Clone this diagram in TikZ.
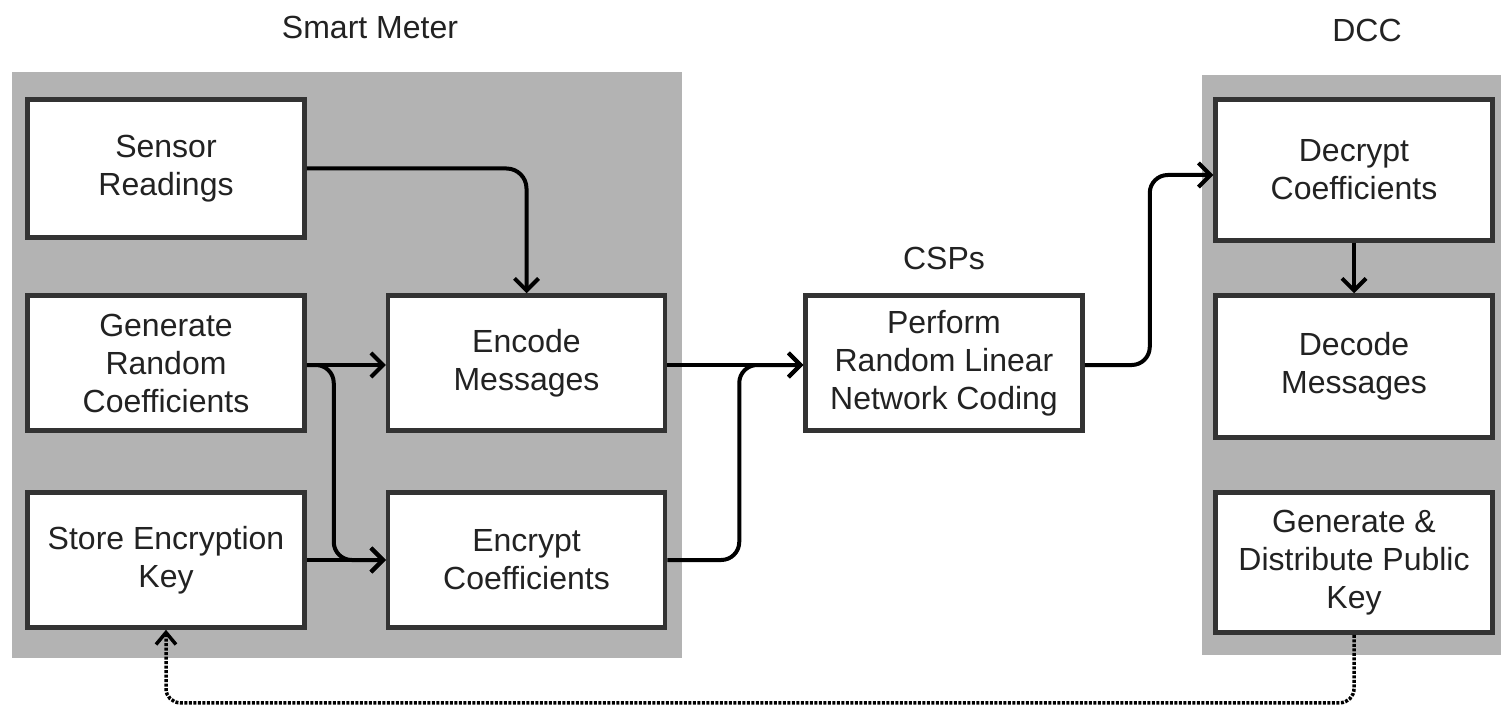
\documentclass[tikz,border=0pt]{standalone}
\usepackage{fontspec}
\setmainfont{Liberation Sans}
\usetikzlibrary{arrows.meta}
\definecolor{panelgray}{RGB}{179,179,179}
\definecolor{boxline}{RGB}{51,51,51}
\definecolor{txt}{RGB}{34,34,34}
\begin{document}
\begin{tikzpicture}[x=1pt,y=-1pt,
  every node/.style={font=\fontsize{32}{38}\selectfont, text=txt},
  block/.style={draw=boxline, line width=4.5pt, fill=white, align=center,
                minimum width=277pt, inner sep=0pt},
  panel/.style={fill=panelgray, draw=none},
  title/.style={anchor=center},
  arr/.style={draw=black, line width=4pt,
              -{Straight Barb[length=12pt,width=24pt,line width=4pt]}},
  keylink/.style={draw=black, line width=3.5pt, dash pattern=on 3pt off 1.5pt,
              rounded corners=14pt,
              -{Straight Barb[length=12pt,width=20pt,line width=3.5pt]}}
]
\useasboundingbox (0,0) rectangle (1501,708);

% grey group panels
\fill[panel] (12,72) rectangle (682,658);
\fill[panel] (1202,75) rectangle (1501,655);

% group titles
\node[title] (tsm)  at (370,27)  {Smart Meter};
\node[title] (tcsp) at (944,258) {CSPs};
\node[title] (tdcc) at (1367,30) {DCC};

% smart meter blocks
\node[block, minimum height=138pt] (sensor)   at (166,168.5) {Sensor\\Readings};
\node[block, minimum height=135pt] (genrand)  at (166,363)   {Generate\\Random\\Coefficients};
\node[block, minimum height=135pt] (storekey) at (166,560)   {Store Encryption\\Key};
\node[block, minimum height=135pt] (encode)   at (526.5,363) {Encode\\Messages};
\node[block, minimum height=135pt] (encrypt)  at (526.5,560) {Encrypt\\Coefficients};

% CSP block
\node[block, minimum height=135pt] (rlnc) at (944,363) {Perform\\Random Linear\\Network Coding};

% DCC blocks
\node[block, minimum height=141pt] (decrypt) at (1354,170)   {Decrypt\\Coefficients};
\node[block, minimum height=142pt] (decode)  at (1354,366.5) {Decode\\Messages};
\node[block, minimum height=140pt] (pubkey)  at (1354,562.5) {Generate \&\\Distribute Public\\Key};

% connectors inside the smart meter
\draw[arr, rounded corners=20pt] (sensor.east) -| (encode.north);
\draw[arr] ([yshift=-2pt]genrand.east) -- ([yshift=-2pt]encode.west);
\draw[arr, rounded corners=18pt] ([yshift=-2pt]genrand.east) -- ++(27,0) |- (encrypt.west);
\draw[arr] (storekey.east) -- (encrypt.west);

% towards the CSPs
\draw[arr] ([yshift=-2pt]encode.east) -- ([yshift=-2pt]rlnc.west);
\draw[arr, rounded corners=18pt] (encrypt.east) -- ++(72,0) |- ([yshift=-2pt]rlnc.west);

% towards the DCC
\draw[arr, rounded corners=18pt] ([yshift=-2pt]rlnc.east) -- ++(65,0) |- ([yshift=-5pt]decrypt.west);
\draw[arr] (decrypt.south) -- (decode.north);

% public key distribution
\draw[keylink] (pubkey.south) -- ++(0,68) -| (storekey.south);
\end{tikzpicture}
\end{document}
